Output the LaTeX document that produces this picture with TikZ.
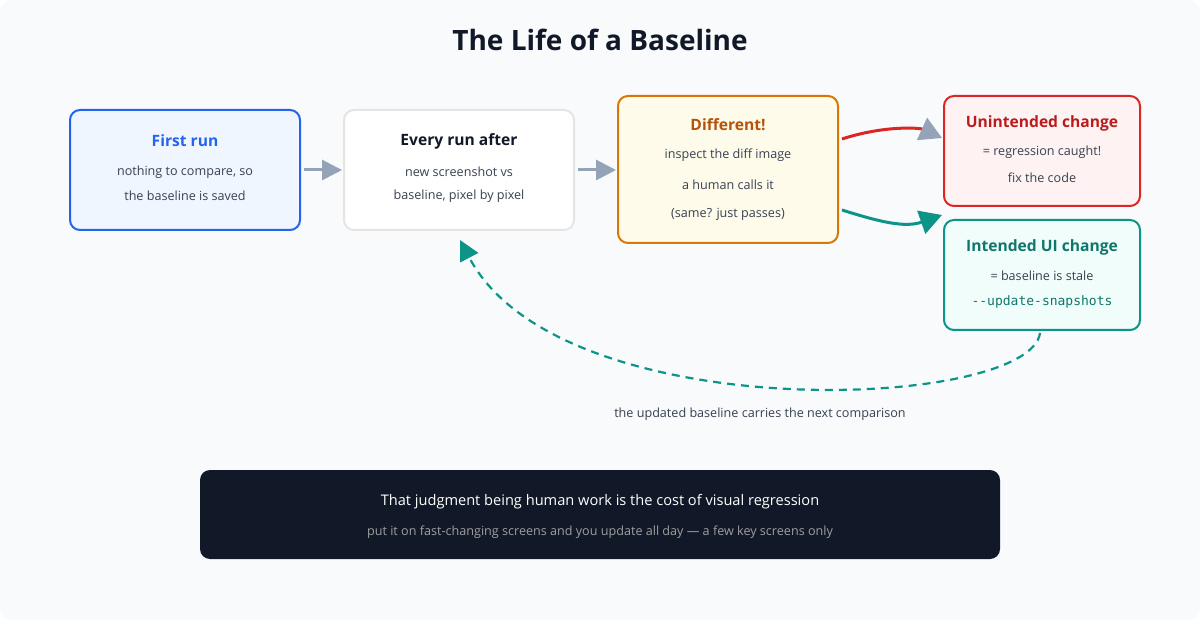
\documentclass[tikz,border=0pt]{standalone}
\usepackage{fontspec}
\setmainfont{Open Sans}
\setmonofont{DejaVu Sans Mono}
\usetikzlibrary{calc,arrows.meta,positioning}
\definecolor{bgc}{HTML}{F8FAFC}
\definecolor{ink}{HTML}{111827}
\definecolor{txt}{HTML}{374151}
\definecolor{arr}{HTML}{94A3B8}
\definecolor{blu}{HTML}{2563EB}
\definecolor{bluf}{HTML}{EFF6FF}
\definecolor{orn}{HTML}{D97706}
\definecolor{ornf}{HTML}{FFFBEB}
\definecolor{ornt}{HTML}{B45309}
\definecolor{rd}{HTML}{DC2626}
\definecolor{rdf}{HTML}{FEF2F2}
\definecolor{rdt}{HTML}{B91C1C}
\definecolor{tl}{HTML}{0D9488}
\definecolor{tlf}{HTML}{F0FDFA}
\definecolor{tlt}{HTML}{0F766E}

\begin{document}
\begin{tikzpicture} [x=0.5pt, y=-0.5pt,
  box/.style={rectangle, rounded corners=5pt, line width=1pt},
  head/.style={font=\bfseries\fontsize{7.8}{10}\selectfont},
  body/.style={font=\fontsize{6.3}{8}\selectfont, text=txt},
  flow/.style={-{Triangle[width=10pt, length=10pt]}, arr, line width=1.5pt}]

  \fill [bgc, rounded corners=6pt] (0,0) rectangle (1200,620);
  \useasboundingbox (0,0) rectangle (1200,620);

  \node [font=\bfseries\fontsize{14}{16}\selectfont, text=ink] (title) at (600,40) {The Life of a Baseline};

  % boxes
  \draw [box, blu, fill=bluf] (70,110) rectangle (300,230);
  \node [head, text=blu] (first) at (185,141) {First run};
  \node [body] (first1) at (185,172) {nothing to compare, so};
  \node [body] (first2) at (185,196) {the baseline is saved};

  \draw [box, gray!20, fill=white] (344,110) rectangle (574,230);
  \node [head, text=ink] (every) at (459,141) {Every run after};
  \node [body] (every1) at (459,172) {new screenshot vs};
  \node [body] (every2) at (459,196) {baseline, pixel by pixel};

  \draw [box, orn, fill=ornf] (618,96) rectangle (838,243);
  \node [head, text=ornt] (diff) at (728,125) {Different!};
  \node [body] (diff1) at (728,155) {inspect the diff image};
  \node [body] (diff2) at (728,185) {a human calls it};
  \node [body] (diff3) at (728,214) {(same? just passes)};

  \draw [box, rd, fill=rdf] (944,96) rectangle (1140,206);
  \node [head, text=rdt] (unint) at (1042,123) {Unintended change};
  \node [body] (unint1) at (1042,152) {= regression caught!};
  \node [body] (unint2) at (1042,178) {fix the code};

  \draw [box, tl, fill=tlf] (944,220) rectangle (1140,330);
  \node [head, text=tlt] (intd) at (1042,247) {Intended UI change};
  \node [body] (intd1) at (1042,276) {= baseline is stale};
  \node [body, font=\ttfamily\fontsize{6.5}{8}\selectfont, text=tlt] (intd2) at (1042,302) {-{}-update-snapshots};

  % connectors
  \coordinate (a1) at (304,170);
  \coordinate (a2) at (342,170);
  \coordinate (b1) at (578,170);
  \coordinate (b2) at (616,170);
  \draw [flow] (a1) -- (a2);
  \draw [flow] (b1) -- (b2);

  \coordinate (r1) at (842,139);
  \coordinate (r2) at (942,138);
  \draw [-{Triangle[width=12pt, length=11pt, color=arr]}, rd, line width=1.5pt]
    (r1) .. controls (885,125) and (920,128) .. (r2);

  \coordinate (t1) at (842,210);
  \coordinate (t2) at (942,215);
  \draw [-{Triangle[width=12pt, length=11pt]}, tl, line width=1.5pt]
    (t1) .. controls (880,222) and (905,228) .. (t2);

  \coordinate (d1) at (1040,333);
  \coordinate (d2) at (460,240);
  \draw [-{Triangle[width=10pt, length=10pt]}, tl, line width=1.1pt, dash pattern=on 4pt off 3pt]
    (d1) .. controls (1030,410) and (560,430) .. (d2);
  \node [body] (loop) at (760,414) {the updated baseline carries the next comparison};

  % footer
  \fill [ink, rounded corners=5pt] (200,470) rectangle (1000,559);
  \node [font=\fontsize{7.3}{9}\selectfont, text=white] (foot1) at (600,502) {That judgment being human work is the cost of visual regression};
  \node [body, text=gray!75] (foot2) at (600,532) {put it on fast-changing screens and you update all day — a few key screens only};

\end{tikzpicture}
\end{document}
